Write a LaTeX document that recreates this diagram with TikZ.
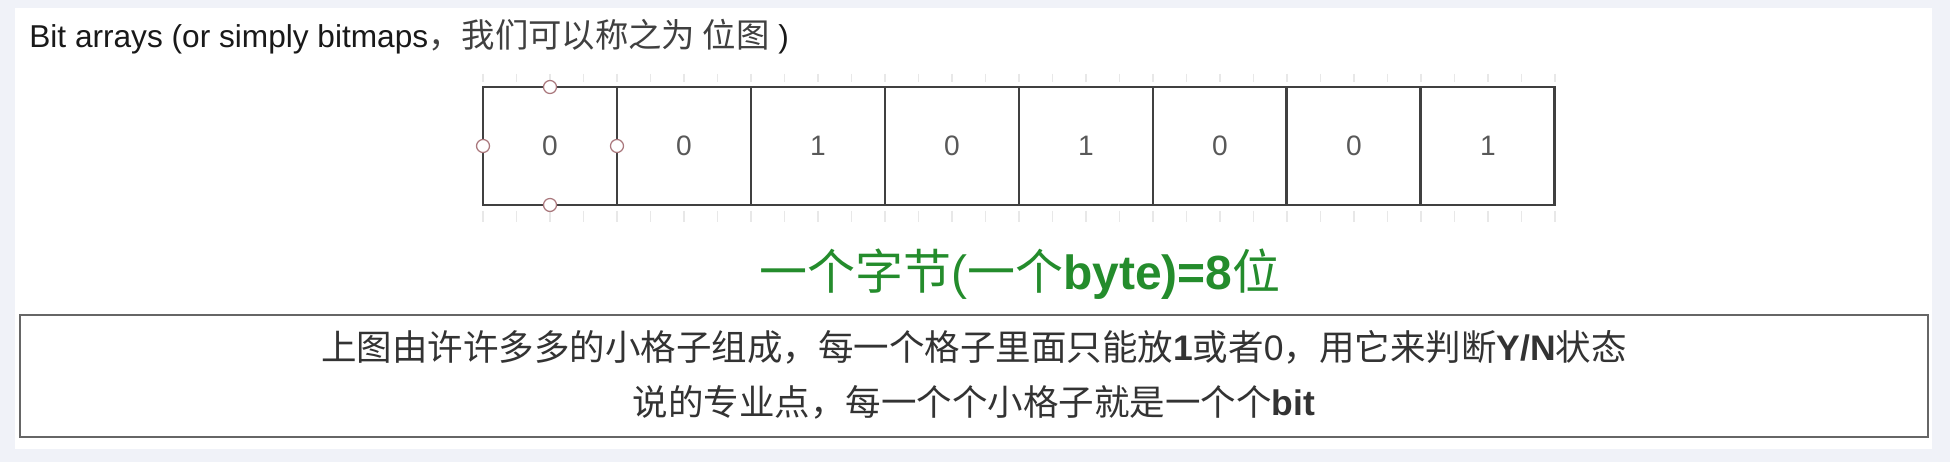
\documentclass[tikz,border=0pt]{standalone}
\usepackage{fontspec}
\setmainfont{Liberation Sans}
\newfontfamily\cjk{Noto Sans CJK SC}
\usetikzlibrary{positioning}

\definecolor{pagebg}{RGB}{240,242,248}
\definecolor{bytegreen}{RGB}{36,140,44}
\definecolor{grippink}{RGB}{170,120,125}
\newcommand{\zh}[1]{{\cjk #1}}

\begin{document}
\begin{tikzpicture}
    [x=0.02cm, y=-0.02cm,
    % STYLES
    % one cell of the byte
    bit/.style={rectangle, draw=black!75, line width=0.055cm, minimum width=2.68cm, minimum height=2.36cm, inner sep=0pt, outer sep=0pt, text=black!65, font=\fontsize{16}{19}\selectfont},
    % the small round grips on the first cell
    grip/.style={circle, draw=grippink, fill=white, line width=0.025cm, minimum size=0.26cm, inner sep=0pt},
    % faint ruler marks round the cells
    ruler/.style={draw=black!9, line width=0.03cm},
    % the framed note at the bottom
    notebox/.style={rectangle, draw=black!60, line width=0.05cm, fill=white, minimum width=38.16cm, minimum height=2.44cm},
    note/.style={anchor=base, inner sep=0pt, text=black!80, font=\fontsize{20.2}{24}\selectfont}]

    \useasboundingbox (0,0) rectangle (1950,462);
    \fill[pagebg] (0,0) rectangle (1950,462);
    \fill[white] (15,8) rectangle (1932,449);

    % Title
    \node[anchor=base west, inner sep=0pt, text=black!90, font=\fontsize{18}{21}\selectfont] (title) at (29,48)
      {Bit arrays (or simply bitmaps{\cjk\fontsize{19}{22}\selectfont\color{black!75}，我们可以称之为 位图} )};

    % Ruler marks
    \foreach \k in {0,...,32} {
      \draw[ruler] ({483+33.5*\k},211) -- ++(0,11);
      \draw[ruler] ({483+33.5*\k},74) -- ++(0,8);
    }

    % Draw cells
    \node[bit] (b1) at (550,146) {0};
    \node[bit, right=0pt of b1] (b2) {0};
    \node[bit, right=0pt of b2] (b3) {1};
    \node[bit, right=0pt of b3] (b4) {0};
    \node[bit, right=0pt of b4] (b5) {1};
    \node[bit, right=0pt of b5] (b6) {0};
    \node[bit, right=0pt of b6] (b7) {0};
    \node[bit, right=0pt of b7] (b8) {1};

    % Grips of the selected cell
    \node[grip] (gn) at (b1.north) {};
    \node[grip] (gs) at (b1.south) {};
    \node[grip] (gw) at (b1.west) {};
    \node[grip] (ge) at (b1.east) {};

    % One byte
    \node[anchor=base, inner sep=0pt, text=bytegreen, font=\fontsize{27.3}{32}\selectfont] (byte) at (1020,290)
      {\zh{一个字节}(\zh{一个}\textbf{byte)=8}\zh{位}};

    % Note
    \node[notebox] (box) at (974,376) {};
    \node[note] (line1) at (974,360.5)
      {\zh{上图由许许多多的小格子组成，每一个格子里面只能放}\textbf{1}\zh{或者}0\zh{，用它来判断}\textbf{Y/N}\zh{状态}};
    \node[note] (line2) at (974,415.5)
      {\zh{说的专业点，每一个个小格子就是一个个}\textbf{bit}};
\end{tikzpicture}
\end{document}
